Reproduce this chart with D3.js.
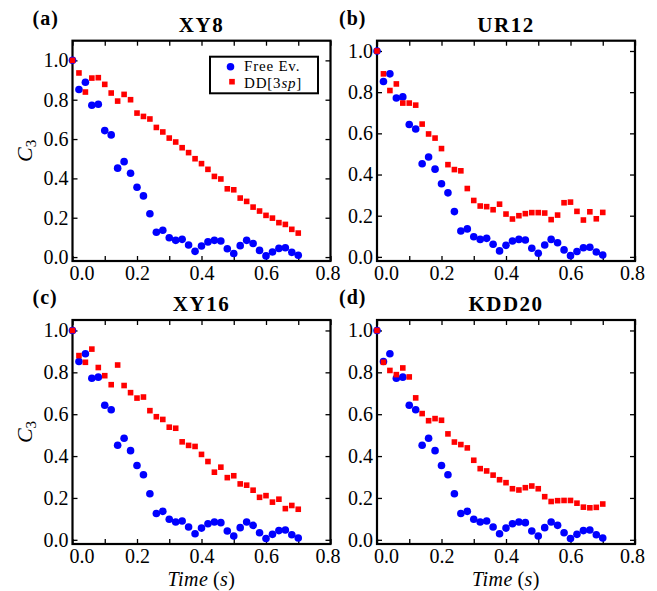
<!DOCTYPE html>
<html>
<head>
<meta charset="utf-8">
<script src="https://cdn.jsdelivr.net/npm/d3@7"></script>
<style>
    body { margin: 0; background: #fff; }
    svg, svg text { font-family: "Liberation Serif", "Times New Roman", serif; fill: #000; }
</style>
</head>
<body>
<div id="chart"></div>
<script>
// time points (s)
const times = [0.00, 0.02, 0.04, 0.06, 0.08, 0.10, 0.12, 0.14, 0.16, 0.18,
    0.20, 0.22, 0.24, 0.26, 0.28, 0.30, 0.32, 0.34, 0.36, 0.38,
    0.40, 0.42, 0.44, 0.46, 0.48, 0.50, 0.52, 0.54, 0.56, 0.58,
    0.60, 0.62, 0.64, 0.66, 0.68, 0.70];

// free evolution (same in every panel)
const freeEv = [1.000, 0.852, 0.889, 0.772, 0.777, 0.643, 0.621, 0.452, 0.485, 0.426,
    0.355, 0.311, 0.220, 0.126, 0.136, 0.098, 0.085, 0.090, 0.061, 0.029,
    0.056, 0.077, 0.085, 0.082, 0.042, 0.018, 0.058, 0.085, 0.069, 0.034,
    0.006, 0.026, 0.044, 0.047, 0.024, 0.009];

// DD[3sp] per sequence
const ddXY8 = [1.000, 0.936, 0.839, 0.910, 0.912, 0.878, 0.834, 0.793, 0.827, 0.800,
    0.732, 0.715, 0.702, 0.659, 0.636, 0.605, 0.585, 0.556, 0.531, 0.500,
    0.475, 0.446, 0.410, 0.397, 0.347, 0.342, 0.300, 0.283, 0.254, 0.234,
    0.212, 0.198, 0.175, 0.166, 0.141, 0.122];
const ddUR12 = [1.000, 0.889, 0.808, 0.840, 0.747, 0.747, 0.737, 0.645, 0.597, 0.577,
    0.526, 0.448, 0.424, 0.418, 0.332, 0.274, 0.247, 0.244, 0.229, 0.256,
    0.208, 0.184, 0.200, 0.210, 0.215, 0.215, 0.213, 0.181, 0.203, 0.263,
    0.266, 0.221, 0.179, 0.219, 0.185, 0.216];
const ddXY16 = [1.000, 0.880, 0.848, 0.911, 0.823, 0.784, 0.741, 0.835, 0.737, 0.703,
    0.677, 0.682, 0.617, 0.588, 0.575, 0.538, 0.533, 0.468, 0.451, 0.446,
    0.408, 0.374, 0.323, 0.347, 0.297, 0.306, 0.267, 0.261, 0.237, 0.203,
    0.211, 0.180, 0.194, 0.149, 0.164, 0.146];
const ddKDD20 = [1.000, 0.848, 0.809, 0.789, 0.821, 0.778, 0.678, 0.603, 0.569, 0.579,
    0.571, 0.506, 0.467, 0.455, 0.439, 0.380, 0.340, 0.329, 0.309, 0.287,
    0.273, 0.244, 0.238, 0.249, 0.257, 0.244, 0.206, 0.183, 0.187, 0.188,
    0.188, 0.175, 0.156, 0.153, 0.155, 0.171];

const xTicks = [0.0, 0.1, 0.2, 0.3, 0.4, 0.5, 0.6, 0.7, 0.8];
const yTicks = [0.0, 0.2, 0.4, 0.6, 0.8, 1.0];

const panelLabels = ["(a)", "(b)", "(c)", "(d)"];
const panelTitles = ["XY8", "UR12", "XY16", "KDD20"];
const panelSeries = [ddXY8, ddUR12, ddXY16, ddKDD20];
const panelYLims = [[-0.02, 1.10], [-0.02, 1.05], [-0.02, 1.05], [-0.02, 1.05]];

// layout
const colX = [72.5, 377];
const colW = 258;
const rowY = [40.7, 320];
const rowH = [220.3, 224];

const blue = "#0000ff", red = "#ff0000";
const serif = '"Liberation Serif", "Times New Roman", serif';

let svg = d3.select("#chart")
    .append("svg")
    .attr("width", 657)
    .attr("height", 591)
    .attr("font-family", serif);

svg.append("rect").attr("width", 657).attr("height", 591).attr("fill", "#fff");

function styleAxis(g) {
    g.attr("font-family", serif).attr("font-size", null);
    g.select(".domain").remove();
    g.selectAll(".tick line").attr("stroke", "#000").attr("stroke-width", 1.3);
    g.selectAll(".tick text").style("font-size", "20px");
}

panelTitles.forEach(function (title, i) {
    let col = i % 2, row = Math.floor(i / 2);
    let w = colW, h = rowH[row];
    let g = svg.append("g")
        .attr("transform", `translate(${colX[col]}, ${rowY[row]})`);

    let x = d3.scaleLinear().domain([0, 0.8]).range([0, w]);
    let y = d3.scaleLinear().domain(panelYLims[i]).range([h, 0]);

    // bottom axis, labels every 0.2
    g.append("g")
        .attr("transform", `translate(0, ${h})`)
        .call(d3.axisBottom(x).tickValues(xTicks).tickSize(-5).tickPadding(5)
            .tickFormat((d, k) => k % 2 === 0 ? d3.format(".1f")(d) : ""))
        .call(styleAxis)
        .selectAll(".tick text")
        .attr("dx", d => d === 0 ? 9 : (d === 0.8 ? -3 : 0));

    g.append("g")
        .call(d3.axisTop(x).tickValues(xTicks).tickSize(-5).tickFormat(""))
        .call(styleAxis);

    g.append("g")
        .call(d3.axisLeft(y).tickValues(yTicks).tickSize(-5).tickPadding(4)
            .tickFormat(d3.format(".1f")))
        .call(styleAxis);

    g.append("g")
        .attr("transform", `translate(${w}, 0)`)
        .call(d3.axisRight(y).tickValues(yTicks).tickSize(-5).tickFormat(""))
        .call(styleAxis);

    // frame
    g.append("rect")
        .attr("width", w)
        .attr("height", h)
        .attr("fill", "none")
        .attr("stroke", "#000")
        .attr("stroke-width", 2.2);

    // free evolution
    g.selectAll(".free")
        .data(times)
        .join("circle")
        .attr("class", "free")
        .attr("cx", d => x(d))
        .attr("cy", (d, k) => y(freeEv[k]))
        .attr("r", 3.8)
        .attr("fill", blue);

    // DD
    let s = 5.6;
    g.selectAll(".dd")
        .data(times)
        .join("rect")
        .attr("class", "dd")
        .attr("x", d => x(d) - s / 2)
        .attr("y", (d, k) => y(panelSeries[i][k]) - s / 2)
        .attr("width", s)
        .attr("height", s)
        .attr("fill", red);

    // title and panel label
    g.append("text")
        .attr("x", w / 2)
        .attr("y", -9)
        .attr("text-anchor", "middle")
        .style("font-size", "21px")
        .style("font-weight", "bold")
        .style("letter-spacing", "1.5px")
        .text(title);

    g.append("text")
        .attr("x", col === 0 ? -40 : -38)
        .attr("y", -16)
        .style("font-size", "20px")
        .style("font-weight", "bold")
        .style("letter-spacing", "1px")
        .text(panelLabels[i]);

    // y label on left column
    if (col === 0) {
        let yl = g.append("text")
            .attr("transform", `translate(-41, ${h / 2}) rotate(-90)`)
            .attr("text-anchor", "middle")
            .style("font-size", "22px");
        yl.append("tspan").style("font-style", "italic").text("C");
        yl.append("tspan").attr("dy", 4).style("font-size", "15px").text("3");
    }

    // x label on bottom row
    if (row === 1) {
        let xl = g.append("text")
            .attr("x", w / 2)
            .attr("y", h + 42)
            .attr("text-anchor", "middle")
            .style("font-size", "20px")
            .style("letter-spacing", "0.5px");
        xl.append("tspan").style("font-style", "italic").text("Time");
        xl.append("tspan").text("\u2009(");
        xl.append("tspan").style("font-style", "italic").text("s");
        xl.append("tspan").text(")");
    }

    // legend in first panel
    if (i === 0) {
        let lg = g.append("g").attr("transform", "translate(137.5, 16)");
        lg.append("rect")
            .attr("width", 108)
            .attr("height", 36.6)
            .attr("fill", "#fff")
            .attr("stroke", "#000")
            .attr("stroke-width", 2);
        lg.append("circle").attr("cx", 20.5).attr("cy", 10).attr("r", 3.8).attr("fill", blue);
        lg.append("rect").attr("x", 22 - s / 2).attr("y", 25 - s / 2)
            .attr("width", s).attr("height", s).attr("fill", red);
        lg.append("text").attr("x", 34).attr("y", 14)
            .style("font-size", "15px")
            .style("letter-spacing", "0.8px")
            .text("Free Ev.");
        let dd = lg.append("text").attr("x", 34).attr("y", 31)
            .style("font-size", "15px")
            .style("letter-spacing", "0.8px")
            .text("DD[3");
        dd.append("tspan").style("font-style", "italic").text("sp");
        dd.append("tspan").text("]");
    }
});
</script>
</body>
</html>
